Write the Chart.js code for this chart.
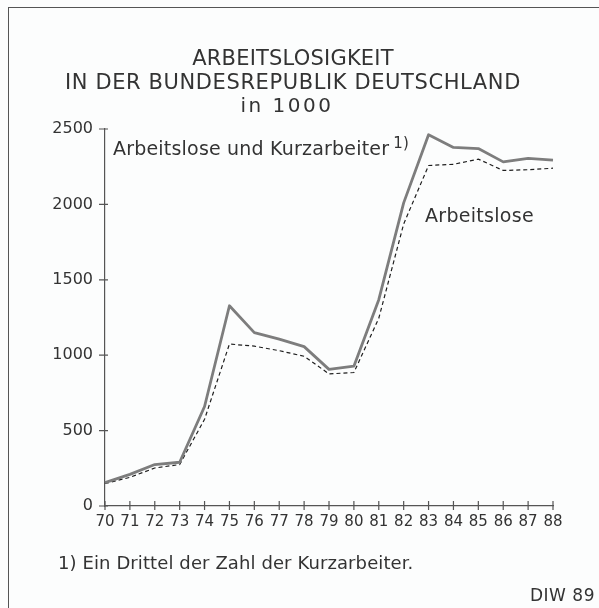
<!DOCTYPE html>
<html>
<head>
<meta charset="utf-8">
<script src="https://cdn.jsdelivr.net/npm/chart.js@4"></script>
<style>
    body {
        margin: 0;
        width: 599px;
        height: 608px;
        background: #fcfdfd;
        overflow: hidden;
        font-family: "DejaVu Sans", sans-serif;
        color: #333;
    }
    .frame {
        position: absolute;
        left: 8px;
        top: 7px;
        width: 620px;
        height: 640px;
        border-left: 1.5px solid #555;
        border-top: 1.5px solid #555;
    }
    .txt {
        position: absolute;
        white-space: nowrap;
        line-height: 1;
    }
    #chartBox {
        position: absolute;
        left: 0;
        top: 0;
    }
</style>
</head>
<body>
<div class="frame"></div>
<canvas id="chartBox" width="599" height="608"></canvas>

<div class="txt" style="left:0;width:586px;text-align:center;top:48px;font-size:21px;letter-spacing:0.2px">ARBEITSLOSIGKEIT</div>
<div class="txt" style="left:0;width:586px;text-align:center;top:72px;font-size:21px;letter-spacing:0.6px">IN DER BUNDESREPUBLIK DEUTSCHLAND</div>
<div class="txt" style="left:0;width:574px;text-align:center;top:95px;font-size:20px;letter-spacing:2.5px">in 1000</div>

<div class="txt" style="left:113px;top:139px;font-size:19px;letter-spacing:0.2px">Arbeitslose und Kurzarbeiter<span style="font-size:15px;position:relative;top:-7px;margin-left:4px">1)</span></div>
<div class="txt" style="left:425px;top:206px;font-size:19px;letter-spacing:0.3px">Arbeitslose</div>

<div class="txt" style="left:58px;top:554px;font-size:18px;letter-spacing:0.1px">1) Ein Drittel der Zahl der Kurzarbeiter.</div>
<div class="txt" style="left:530px;top:587px;font-size:17px;letter-spacing:0.5px">DIW 89</div>

<script>
// Jahre (19..)
const years = ['70', '71', '72', '73', '74', '75', '76', '77', '78', '79',
               '80', '81', '82', '83', '84', '85', '86', '87', '88'];

// Arbeitslose und Kurzarbeiter (1/3 der Kurzarbeiter), in 1000
const arbeitsloseUndKurz = [155, 210, 275, 290, 660, 1328, 1150, 1107, 1057, 906,
                            927, 1368, 2010, 2462, 2378, 2370, 2282, 2305, 2293];

// Arbeitslose, in 1000
const arbeitslose = [149, 190, 252, 275, 575, 1074, 1060, 1030, 993, 876,
                     885, 1245, 1870, 2258, 2266, 2300, 2225, 2230, 2240];

const yTicks = [0, 500, 1000, 1500, 2000, 2500];

// Cross-shaped tick marks like the plotter drawing
const crossTicks = {
    id: 'crossTicks',
    afterDraw(chart) {
        const ctx = chart.ctx;
        const xs = chart.scales.x;
        const ys = chart.scales.y;
        ctx.save();
        ctx.strokeStyle = '#555';
        ctx.lineWidth = 1.2;
        ctx.beginPath();
        ys.ticks.forEach((t, i) => {
            const y = ys.getPixelForTick(i);
            ctx.moveTo(ys.right - 6, y);
            ctx.lineTo(ys.right + 3, y);
        });
        xs.ticks.forEach((t, i) => {
            const x = xs.getPixelForTick(i);
            ctx.moveTo(x, xs.top - 5);
            ctx.lineTo(x, xs.top + 4);
        });
        ctx.stroke();
        ctx.restore();
    }
};

new Chart(document.getElementById('chartBox'), {
    type: 'line',
    data: {
        labels: years,
        datasets: [{
            label: 'Arbeitslose und Kurzarbeiter',
            data: arbeitsloseUndKurz,
            borderColor: '#7d7d7d',
            borderWidth: 2.8,
            pointRadius: 0,
            tension: 0,
            borderJoinStyle: 'round'
        }, {
            label: 'Arbeitslose',
            data: arbeitslose,
            borderColor: '#1e1e1e',
            borderWidth: 1.2,
            borderDash: [4, 3],
            pointRadius: 0,
            tension: 0
        }]
    },
    options: {
        responsive: false,
        animation: false,
        layout: {
            padding: { left: 0, right: 46, top: 129, bottom: 72 }
        },
        plugins: {
            legend: { display: false },
            tooltip: { enabled: false }
        },
        scales: {
            x: {
                offset: false,
                grid: { display: false, drawTicks: false },
                border: { display: true, color: '#555', width: 1.2 },
                ticks: {
                    color: '#333',
                    padding: 7,
                    maxRotation: 0,
                    autoSkip: false,
                    font: { family: 'DejaVu Sans', size: 15 }
                },
                afterFit(s) { s.height = 30; }
            },
            y: {
                min: 0,
                max: 2500,
                afterBuildTicks(s) { s.ticks = yTicks.map(v => ({ value: v })); },
                grid: { display: false, drawTicks: false },
                border: { display: true, color: '#555', width: 1.2 },
                ticks: {
                    color: '#333',
                    padding: 12,
                    font: { family: 'DejaVu Sans', size: 16 },
                    callback: (v) => String(v)
                },
                afterFit(s) { s.width = 105; }
            }
        }
    },
    plugins: [crossTicks]
});
</script>
</body>
</html>
